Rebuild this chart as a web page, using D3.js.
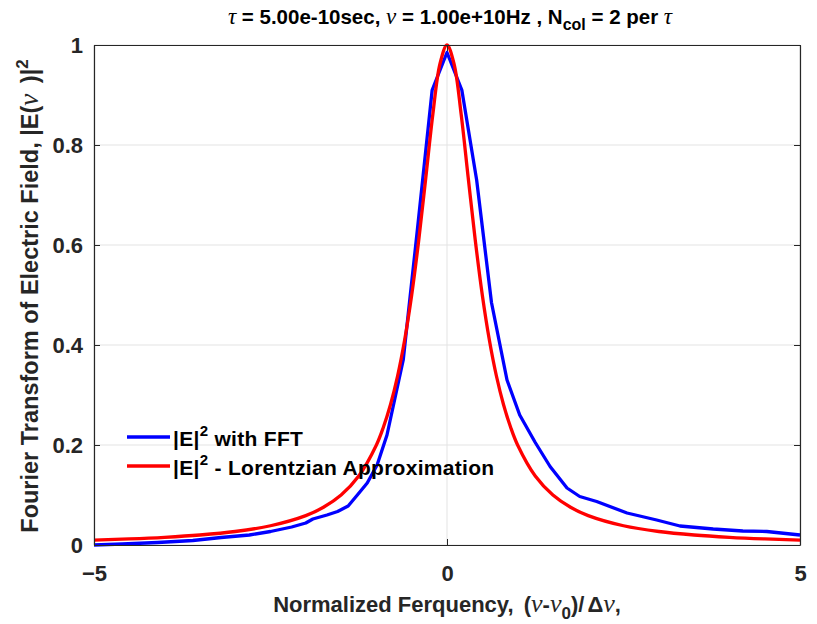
<!DOCTYPE html>
<html>
<head>
<meta charset="utf-8">
<script src="https://cdn.jsdelivr.net/npm/d3@7"></script>
<style>
  html, body { margin: 0; padding: 0; background: #ffffff; }
  svg { display: block; }
  text { font-family: "Liberation Sans", Arial, Helvetica, sans-serif; }
  .greek { font-family: "Liberation Serif", "Times New Roman", serif; font-style: italic; font-weight: normal; }
</style>
</head>
<body>
<svg id="chart" width="817" height="624"></svg>
<script>
// Spectrum computed with the FFT (normalized frequency vs |E|^2)
const fftX = [-5.0, -4.6, -4.1, -3.6, -3.2, -2.8, -2.5, -2.2, -2.0, -1.9, -1.7, -1.55, -1.4, -1.27, -1.13, -0.99, -0.85, -0.62, -0.42, -0.21, 0.0, 0.21, 0.42, 0.63, 0.85, 1.03, 1.25, 1.46, 1.70, 1.88, 2.12, 2.55, 2.97, 3.3, 3.77, 4.19, 4.53, 5.0];
const fftY = [0.0, 0.002, 0.005, 0.009, 0.015, 0.02, 0.027, 0.036, 0.044, 0.052, 0.06, 0.067, 0.078, 0.10, 0.124, 0.16, 0.22, 0.37, 0.63, 0.91, 0.985, 0.91, 0.73, 0.485, 0.33, 0.26, 0.205, 0.157, 0.114, 0.097, 0.087, 0.064, 0.05, 0.038, 0.032, 0.028, 0.027, 0.02];

// Lorentzian approximation of the same spectrum
const lorX = [-5, -4.5, -4, -3.5, -3, -2.5, -2, -1.75, -1.5, -1.25, -1, -0.9, -0.8, -0.7, -0.6, -0.5, -0.4, -0.3, -0.2, -0.1, 0, 0.1, 0.2, 0.3, 0.4, 0.5, 0.6, 0.7, 0.8, 0.9, 1, 1.25, 1.5, 1.75, 2, 2.5, 3, 3.5, 4, 4.5, 5];
const lorY = [0.0099, 0.0122, 0.0154, 0.02, 0.027, 0.0385, 0.0588, 0.0755, 0.1, 0.138, 0.2, 0.236, 0.281, 0.338, 0.41, 0.5, 0.61, 0.735, 0.862, 0.962, 1.0, 0.962, 0.862, 0.735, 0.61, 0.5, 0.41, 0.338, 0.281, 0.236, 0.2, 0.138, 0.1, 0.0755, 0.0588, 0.0385, 0.027, 0.02, 0.0154, 0.0122, 0.0099];

const xTicks = [-5, 0, 5];
const yTicks = [0, 0.2, 0.4, 0.6, 0.8, 1];
const yTickLabels = ["0", "0.2", "0.4", "0.6", "0.8", "1"];
const legendLabels = [" with FFT", " - Lorentzian Approximation"];
const seriesColors = ["#0000ff", "#ff0000"];

const svg = d3.select("#chart");
const margin = { left: 94, right: 17, top: 45, bottom: 79 };
const W = 817, H = 624;
const x = d3.scaleLinear().domain([-5, 5]).range([margin.left, W - margin.right]);
const y = d3.scaleLinear().domain([0, 1]).range([H - margin.bottom, margin.top]);
const axisColor = "#262626";

// grid
const grid = svg.append("g");
grid.selectAll(".gx").data(xTicks).enter().append("line")
  .attr("x1", d => x(d)).attr("x2", d => x(d))
  .attr("y1", y(0)).attr("y2", y(1))
  .attr("stroke", "#e3e3e3").attr("stroke-width", 1);
grid.selectAll(".gy").data(yTicks).enter().append("line")
  .attr("x1", x(-5)).attr("x2", x(5))
  .attr("y1", d => y(d)).attr("y2", d => y(d))
  .attr("stroke", "#e3e3e3").attr("stroke-width", 1);

// curves
const pts = (xs, ys) => xs.map((v, i) => [v, ys[i]]);
const fftLine = d3.line().x(d => x(d[0])).y(d => y(d[1])).curve(d3.curveLinear);
const lorLine = d3.line().x(d => x(d[0])).y(d => y(d[1])).curve(d3.curveCatmullRom);
svg.append("path").datum(pts(fftX, fftY))
  .attr("d", fftLine)
  .attr("fill", "none").attr("stroke", seriesColors[0]).attr("stroke-width", 3.3)
  .attr("stroke-linejoin", "round");
svg.append("path").datum(pts(lorX, lorY))
  .attr("d", lorLine)
  .attr("fill", "none").attr("stroke", seriesColors[1]).attr("stroke-width", 3.3)
  .attr("stroke-linejoin", "round");

// axes (box with inward ticks)
const axisB = d3.axisBottom(x).tickValues(xTicks).tickSizeInner(-6).tickSizeOuter(0).tickPadding(20).tickFormat(d3.format("d"));
const axisL = d3.axisLeft(y).tickValues(yTicks).tickSizeInner(-6).tickSizeOuter(0).tickPadding(11)
  .tickFormat((d, i) => yTickLabels[i]);
const axisT = d3.axisTop(x).tickValues(xTicks).tickSizeInner(-6).tickSizeOuter(0).tickFormat("");
const axisR = d3.axisRight(y).tickValues(yTicks).tickSizeInner(-6).tickSizeOuter(0).tickFormat("");

function styleAxis(sel) {
  sel.select(".domain").attr("stroke", axisColor).attr("stroke-width", 1.2);
  sel.selectAll(".tick line").attr("stroke", axisColor).attr("stroke-width", 1);
  sel.selectAll(".tick text").attr("fill", axisColor)
    .style("font-size", "22px").style("font-weight", "bold")
    .style("font-family", "'Liberation Sans', Arial, sans-serif");
}
svg.append("g").attr("transform", `translate(0,${y(0)})`).call(axisB).call(styleAxis);
svg.append("g").attr("transform", `translate(${x(-5)},0)`).call(axisL).call(styleAxis);
svg.append("g").attr("transform", `translate(0,${y(1)})`).call(axisT).call(styleAxis);
svg.append("g").attr("transform", `translate(${x(5)},0)`).call(axisR).call(styleAxis);

// legend (no frame)
const leg = svg.append("g");
const legY = [437, 466];
legendLabels.forEach((lab, i) => {
  leg.append("line").attr("x1", 127).attr("x2", 170).attr("y1", legY[i]).attr("y2", legY[i])
    .attr("stroke", seriesColors[i]).attr("stroke-width", 3.3);
  const t = leg.append("text").attr("x", 173).attr("y", legY[i] + 9)
    .attr("fill", "#000").style("font-size", "21px").style("font-weight", "bold")
    .style("letter-spacing", "0.3px");
  t.append("tspan").text("|E|");
  t.append("tspan").attr("dy", -10).style("font-size", "15px").text("2");
  t.append("tspan").attr("dy", 10).text(lab);
});

// title
const title = svg.append("text").attr("x", 450).attr("y", 24).attr("text-anchor", "middle")
  .attr("fill", "#000").style("font-size", "20.5px").style("font-weight", "bold");
title.append("tspan").attr("class", "greek").style("font-size", "23px").text("τ");
title.append("tspan").text(" = 5.00e-10sec, ");
title.append("tspan").attr("class", "greek").style("font-size", "23px").text("ν");
title.append("tspan").text(" = 1.00e+10Hz , N");
title.append("tspan").attr("dy", 6).style("font-size", "16px").text("col");
title.append("tspan").attr("dy", -6).text(" = 2 per ");
title.append("tspan").attr("class", "greek").style("font-size", "23px").text("τ");

// x label
const xl = svg.append("text").attr("x", 447).attr("y", 612).attr("text-anchor", "middle")
  .attr("fill", "#262626").style("font-size", "22px").style("font-weight", "bold");
xl.append("tspan").text("Normalized Ferquency,");
xl.append("tspan").attr("dx", 4).text(" (");
xl.append("tspan").attr("class", "greek").style("font-size", "26px").text("ν");
xl.append("tspan").text("-");
xl.append("tspan").attr("class", "greek").style("font-size", "26px").text("ν");
xl.append("tspan").attr("dy", 7).style("font-size", "17px").text("0");
xl.append("tspan").attr("dy", -7).text(")/");
xl.append("tspan").attr("dx", 3).text("Δ");
xl.append("tspan").attr("class", "greek").style("font-size", "26px").text("ν");
xl.append("tspan").text(",");

// y label
const yl = svg.append("text").attr("transform", "translate(38,296) rotate(-90)").attr("text-anchor", "middle")
  .attr("fill", "#262626").style("font-size", "23.5px").style("font-weight", "bold");
yl.append("tspan").text("Fourier Transform of Electric Field, |E(");
yl.append("tspan").attr("class", "greek").style("font-size", "27px").text("ν");
yl.append("tspan").attr("dx", 4).text(" )|");
yl.append("tspan").attr("dy", -10).style("font-size", "17px").text("2");
</script>
</body>
</html>
